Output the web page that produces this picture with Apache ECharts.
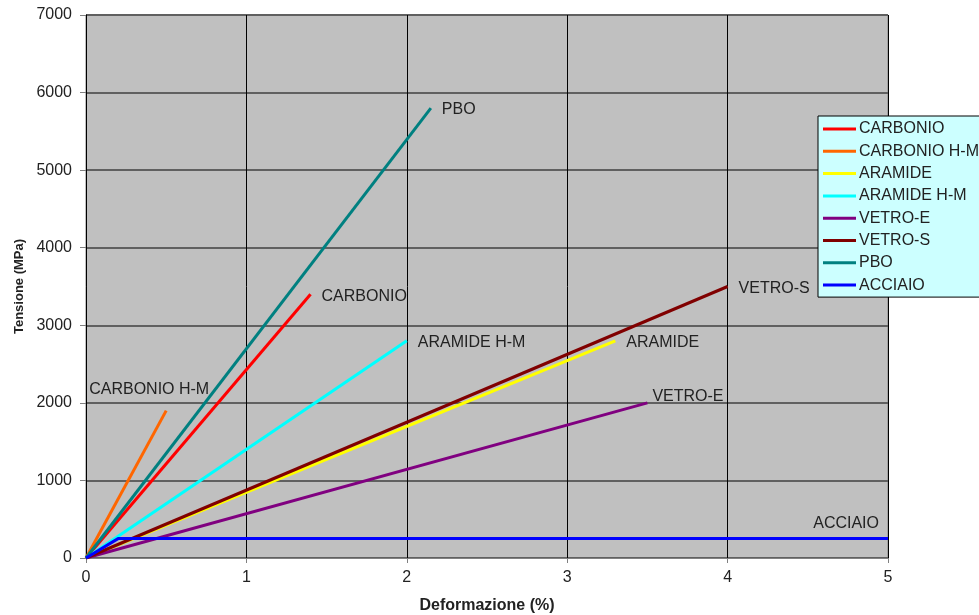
<!DOCTYPE html>
<html>
<head>
<meta charset="utf-8">
<script src="https://cdn.jsdelivr.net/npm/echarts@6/dist/echarts.min.js"></script>
<style>html,body{margin:0;padding:0;background:#fff}#c{width:979px;height:615px}</style>
</head>
<body>
<div id="c"></div>
<script>
const seriesNames = ['CARBONIO','CARBONIO H-M','ARAMIDE','ARAMIDE H-M','VETRO-E','VETRO-S','PBO','ACCIAIO'];
const colors = ['#FF0000','#FF6600','#FFFF00','#00FFFF','#800080','#800000','#008080','#0000FF'];
// strain (%) and stress (MPa) points per series
const strainCarbonio = [0, 1.4];
const stressCarbonio = [0, 3400];
const strainCarbonioHM = [0, 0.5];
const stressCarbonioHM = [0, 1900];
const strainAramide = [0, 3.3];
const stressAramide = [0, 2800];
const strainAramideHM = [0, 2.0];
const stressAramideHM = [0, 2800];
const strainVetroE = [0, 3.5];
const stressVetroE = [0, 2000];
const strainVetroS = [0, 4.0];
const stressVetroS = [0, 3500];
const strainPBO = [0, 2.15];
const stressPBO = [0, 5800];
const strainAcciaio = [0, 0.2, 5];
const stressAcciaio = [0, 250, 250];

const strains = [strainCarbonio, strainCarbonioHM, strainAramide, strainAramideHM, strainVetroE, strainVetroS, strainPBO, strainAcciaio];
const stresses = [stressCarbonio, stressCarbonioHM, stressAramide, stressAramideHM, stressVetroE, stressVetroS, stressPBO, stressAcciaio];

const FONT = 'Liberation Sans, Arial, sans-serif';
const labelStyles = {
  'CARBONIO H-M': {position:'top', offset:[-17,-8]},
  'ACCIAIO': {position:'top', align:'right', offset:[-9,-2]},
  'VETRO-E': {position:'right', offset:[0,-6]}
};

const series = seriesNames.map((name, i) => {
  const xs = strains[i], ys = stresses[i];
  const data = xs.map((x, k) => {
    if (k === xs.length - 1) {
      const ls = labelStyles[name] || {position:'right', offset:[6,2]};
      return {value:[x, ys[k]], symbol:'circle', symbolSize:0.01,
        label:Object.assign({show:true, formatter:name, color:'#222', fontSize:16, fontFamily:FONT, distance:5}, ls)};
    }
    return {value:[x, ys[k]], symbol:'none'};
  });
  return {
    name, type:'line', data, showSymbol:true,
    lineStyle:{color:colors[i], width:3}, itemStyle:{color:colors[i]},
    animation:false, z: 3 + i
  };
});

const chart = echarts.init(document.getElementById('c'));
chart.setOption({
  animation:false,
  backgroundColor:'#fff',
  grid:{left:86, right:91, top:15, bottom:57, outerBoundsMode:'none', containLabel:false, show:true, backgroundColor:'#C0C0C0', borderColor:'#808080', borderWidth:1},
  xAxis:{
    type:'value', min:0, max:5, interval:1,
    name:'Deformazione (%)', nameLocation:'middle', nameGap:40,
    nameTextStyle:{fontWeight:'bold', fontSize:16, color:'#222', fontFamily:FONT},
    axisLine:{show:true, lineStyle:{color:'#808080', width:1}},
    axisTick:{show:true, length:5, lineStyle:{color:'#808080'}},
    axisLabel:{fontSize:16, color:'#222', margin:12, fontFamily:FONT},
    splitLine:{show:true, lineStyle:{color:'#000', width:1}}
  },
  yAxis:{
    type:'value', min:0, max:7000, interval:1000,
    name:'Tensione (MPa)', nameLocation:'middle', nameGap:60, nameRotate:90,
    nameTextStyle:{fontWeight:'bold', fontSize:13, color:'#222', fontFamily:FONT},
    axisLine:{show:true, onZero:false, lineStyle:{color:'#000', width:1}},
    axisTick:{show:true, length:6, lineStyle:{color:'#808080'}},
    axisLabel:{fontSize:16, color:'#222', margin:14, fontFamily:FONT, formatter:v=>String(v)},
    splitLine:{show:true, lineStyle:{color:'#606060', width:2}}
  },
  legend:{
    show:true, orient:'vertical', left:818, top:116,
    backgroundColor:'#CCFFFF', borderColor:'#000', borderWidth:1,
    padding:[5,30,4,5], itemGap:6.3, itemWidth:33, itemHeight:16,
    textStyle:{fontSize:16, color:'#222', fontFamily:FONT, padding:[0,0,0,-2]},
    data: seriesNames.map((n,i)=>({name:n, icon:'path://M0,7 L33,7 L33,10 L0,10 Z', itemStyle:{color:colors[i]}}))
  },
  series
});
</script>
</body>
</html>
